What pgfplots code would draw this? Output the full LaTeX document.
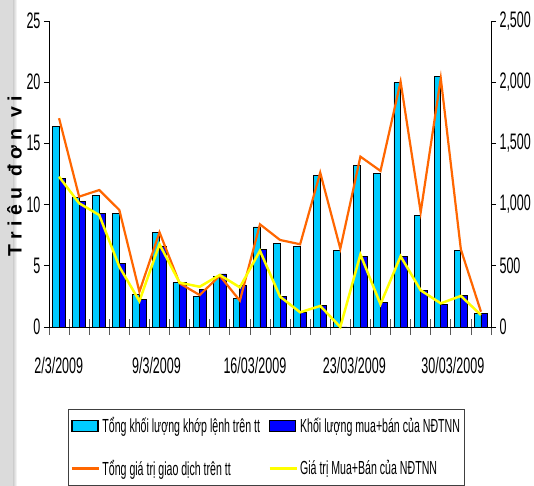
\documentclass[border=0pt]{standalone}
\usepackage{pgfplots}
\usepackage{pgfplotstable}
\pgfplotsset{compat=1.18}
\usepackage{fontspec}
\setmainfont{Liberation Sans}[FakeStretch=0.56]
\newfontfamily\labelfont{Liberation Sans}

\definecolor{volcyan}{HTML}{00CCFF}
\definecolor{volblue}{HTML}{0000FF}
\definecolor{valorange}{HTML}{FF6600}
\definecolor{valyellow}{HTML}{FFFF00}

% idx: trading day of March 2009 (0 = 2/3)
% vol: total matched volume, nn: foreign buy+sell volume (million units)
% val: total traded value, nnval: foreign buy+sell value
\pgfplotstableread{
idx vol nn val nnval
0 16.37 12.16 1706 1228
1 10.62 10.22 1065 1011
2 10.75 9.24 1119 915
3 9.31 5.16 956 493
4 2.62 2.21 288 212
5 7.69 6.62 774 676
6 3.63 3.60 357 362
7 2.47 3.10 261 329
8 4.10 4.33 419 425
9 2.30 3.38 215 324
10 8.17 6.30 839 623
11 6.84 2.50 711 248
12 6.60 1.20 676 120
13 12.40 1.72 1261 172
14 6.24 0.00 640 0
15 13.20 5.78 1392 592
16 12.53 2.02 1275 186
17 19.96 5.78 2004 578
18 9.13 3.00 938 300
19 20.45 1.86 2032 193
20 6.24 2.56 634 254
21 1.14 1.07 125 98
}\datatable

\pgfplotsset{
  panel/.style={
    at={(49bp,159bp)}, anchor=south west,
    scale only axis, width=442bp, height=306bp,
    xmin=-0.5, xmax=21.5,
    axis line style={black, line width=0.8bp},
    tick label style={font=\fontsize{22.5}{24}\selectfont},
    /pgf/number format/assume math mode=true,
    clip=false,
  },
}

\begin{document}
\begin{tikzpicture}
\useasboundingbox (0,0) rectangle (534bp,486bp);
\clip (0,0) rectangle (534bp,486bp);
\fill[white] (0,0) rectangle (534bp,486bp);
\fill[gray!28] (0,0) rectangle (13bp,486bp);
\shade[left color=gray!40, right color=white] (13bp,0) rectangle (17bp,486bp);

\node[rotate=90, anchor=base, font=\labelfont\bfseries\fontsize{19.5}{20}\selectfont]
  at (21.5bp,309.5bp) {T r i ê u \ đ ơ n \ v i};

% category separators and date labels
\begin{axis}[
  panel, ymin=0, ymax=25,
  axis x line*=bottom, axis y line=none,
  xtick={-0.5,0.5,...,21.5}, xticklabels={},
  xtick align=center, major tick length=16bp,
  x tick style={black!65, line width=0.8bp},
  extra x ticks={-0.015,4.85,9.75,14.7,19.6},
  extra x tick labels={2/3/2009,9/3/2009,16/03/2009,23/03/2009,30/03/2009},
  extra x tick style={x tick style={draw=none}, xticklabel style={yshift=-19bp}},
]
\addplot[draw=none] coordinates {(0,0)};
\end{axis}

% volumes, left axis
\begin{axis}[
  panel, ymin=0, ymax=25,
  axis x line*=bottom, axis y line*=left,
  xtick=\empty,
  ytick={0,5,...,25},
  ytick align=outside, major tick length=5bp,
  y tick style={black, line width=0.8bp},
  ybar=0pt, bar width=6.6bp,
]
\addplot[fill=volcyan, draw=black, line width=0.9bp] table[x=idx, y=vol]{\datatable};
\addplot[fill=volblue, draw=black, line width=0.9bp] table[x=idx, y=nn]{\datatable};
\end{axis}

% values, right axis
\begin{axis}[
  panel, ymin=0, ymax=2500,
  axis x line=none, axis y line*=right,
  ytick={0,500,...,2500},
  ytick align=outside, major tick length=5bp,
  y tick style={black, line width=0.8bp},
  /pgf/number format/1000 sep={,},
  legend columns=2,
  legend cell align=left,
  legend style={
    at={(0.043,-0.268)}, anchor=north west,
    draw=black!75, line width=0.8bp,
    font=\fontsize{19}{20}\selectfont,
    inner xsep=2bp, inner ysep=6bp,
    row sep=22bp,
    nodes={inner xsep=2bp},
    /tikz/every even column/.append style={column sep=6bp},
  },
]
\addlegendimage{legend image code/.code={\draw[fill=volcyan, draw=black, line width=1.3bp] (0bp,-5.5bp) rectangle (26bp,5.5bp);}}
\addlegendimage{legend image code/.code={\draw[fill=volblue, draw=black, line width=1.3bp] (0bp,-5.5bp) rectangle (26bp,5.5bp);}}
\addplot[valorange, line width=2.2bp, legend image code/.code={\draw[valorange, line width=3bp] (0bp,0bp) -- (27bp,0bp);}] table[x=idx, y=val]{\datatable};
\addplot[valyellow, line width=2.5bp, legend image code/.code={\draw[valyellow, line width=3bp] (0bp,0bp) -- (27bp,0bp);}] table[x=idx, y=nnval]{\datatable};
\legend{Tổng khối lượng khớp lệnh trên tt, Khối lượng mua+bán của NĐTNN, Tổng giá trị giao dịch trên tt, Giá trị Mua+Bán của NĐTNN}
\end{axis}
\end{tikzpicture}
\end{document}
